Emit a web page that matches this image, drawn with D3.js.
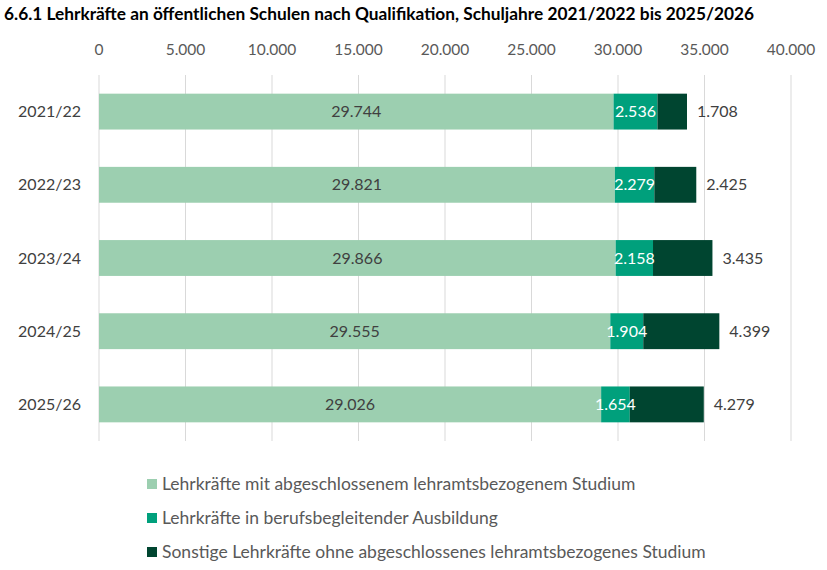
<!DOCTYPE html>
<html>
<head>
<meta charset="utf-8">
<script src="https://cdn.jsdelivr.net/npm/d3@7"></script>
<style>
  body { margin: 0; background: #fff; }
  text { font-family: Lato, "Open Sans", sans-serif; }
</style>
</head>
<body>
<div id="chart"></div>
<script>
const years = ['2021/22', '2022/23', '2023/24', '2024/25', '2025/26']
const studium = [29744, 29821, 29866, 29555, 29026]
const ausbildung = [2536, 2279, 2158, 1904, 1654]
const sonstige = [1708, 2425, 3435, 4399, 4279]
const seriesNames = [
  'Lehrkräfte mit abgeschlossenem lehramtsbezogenem Studium',
  'Lehrkräfte in berufsbegleitender Ausbildung',
  'Sonstige Lehrkräfte ohne abgeschlossenes lehramtsbezogenes Studium'
]
const ticks = [0, 5000, 10000, 15000, 20000, 25000, 30000, 35000, 40000]
const colors = ['#9ccfb0', '#00a07c', '#004530']

const width = 827, height = 570
const fmt = d3.formatLocale({decimal: ',', thousands: '.', grouping: [3], currency: ['', '€']}).format(',d')

const svg = d3.select('#chart').append('svg')
  .attr('width', width)
  .attr('height', height)

// title
svg.append('text')
  .attr('x', 4).attr('y', 20)
  .style('font-size', '17.3px')
  .style('font-weight', 'bold')
  .style('fill', '#000')
  .text('6.6.1 Lehrkräfte an öffentlichen Schulen nach Qualifikation, Schuljahre 2021/2022 bis 2025/2026')

const x = d3.scaleLinear().domain([0, 40000]).range([99, 791])
const y = d3.scaleBand().domain(years).range([75, 441]).paddingInner(0.51).paddingOuter(0.255)

// gridlines
svg.append('g').selectAll('line')
  .data(ticks)
  .join('line')
  .attr('x1', d => x(d)).attr('x2', d => x(d))
  .attr('y1', 75).attr('y2', 441)
  .style('stroke', '#d9d9d9')
  .style('stroke-width', 1)

// top axis labels
svg.append('g').selectAll('text')
  .data(ticks)
  .join('text')
  .attr('x', d => x(d))
  .attr('y', 55)
  .attr('text-anchor', 'middle')
  .style('font-size', '15.5px')
  .style('fill', '#595959')
  .text(d => fmt(d))

// category labels
svg.append('g').selectAll('text')
  .data(years)
  .join('text')
  .attr('x', 81)
  .attr('y', d => y(d) + y.bandwidth() / 2)
  .attr('dy', '0.35em')
  .attr('text-anchor', 'end')
  .style('font-size', '16px')
  .style('fill', '#404040')
  .text(d => d)

const rows = years.map((yr, i) => ({year: yr, values: [studium[i], ausbildung[i], sonstige[i]]}))
const stack = d3.stack().keys([0, 1, 2]).value((d, k) => d.values[k])
const layers = stack(rows)

const layerG = svg.append('g').selectAll('g')
  .data(layers)
  .join('g')
  .style('fill', (d, i) => colors[i])

layerG.selectAll('rect')
  .data(d => d.map(s => ({s, year: s.data.year})))
  .join('rect')
  .attr('x', d => x(d.s[0]))
  .attr('width', d => x(d.s[1]) - x(d.s[0]))
  .attr('y', d => y(d.year))
  .attr('height', y.bandwidth())

// value labels
layers.forEach((layer, li) => {
  svg.append('g').selectAll('text')
    .data(layer)
    .join('text')
    .attr('x', d => li === 2 ? x(d[1]) + 10 : (x(d[0]) + x(d[1])) / 2)
    .attr('y', d => y(d.data.year) + y.bandwidth() / 2)
    .attr('dy', '0.35em')
    .attr('text-anchor', li === 2 ? 'start' : 'middle')
    .style('font-size', '16px')
    .style('fill', li === 1 ? '#fff' : '#404040')
    .text(d => fmt(d.data.values[li]))
})

// legend
const legend = svg.append('g').selectAll('g')
  .data(seriesNames)
  .join('g')
  .attr('transform', (d, i) => `translate(147, ${484 + i * 34})`)

legend.append('rect')
  .attr('x', 0).attr('y', -5)
  .attr('width', 10).attr('height', 10)
  .style('fill', (d, i) => colors[i])

legend.append('text')
  .attr('x', 15)
  .attr('dy', '0.35em')
  .style('font-size', '17.5px')
  .style('fill', '#595959')
  .text(d => d)
</script>
</body>
</html>
